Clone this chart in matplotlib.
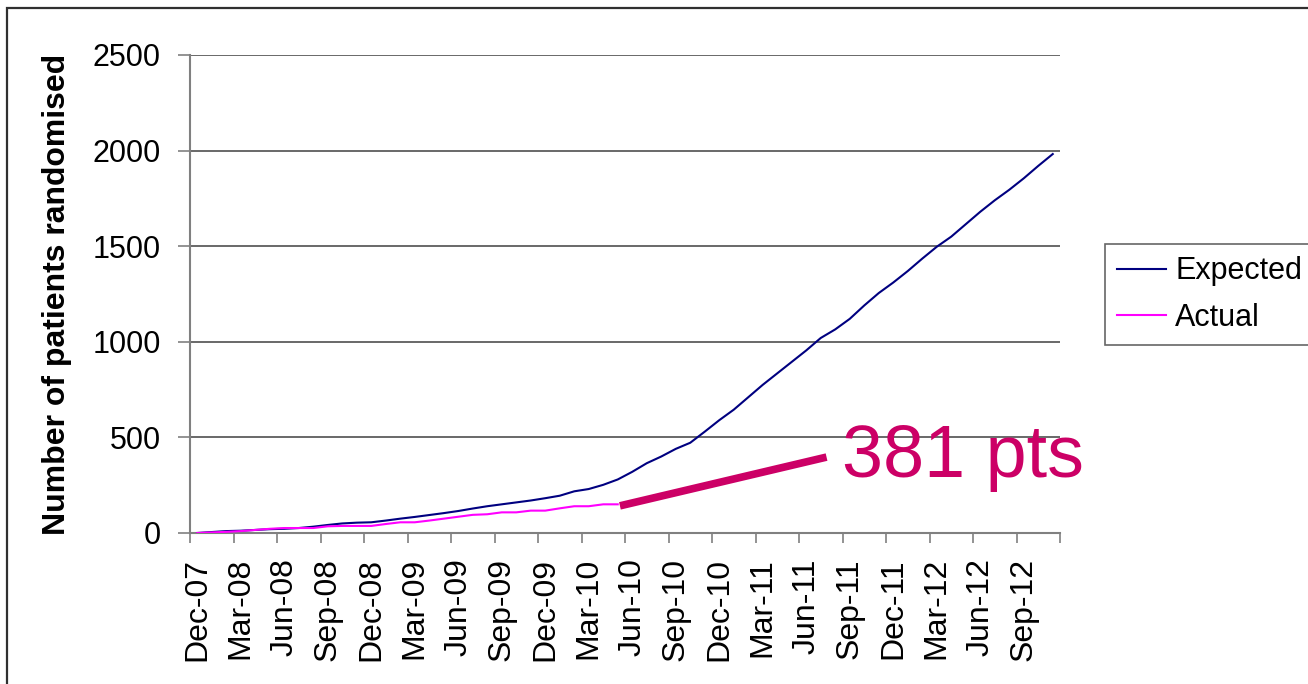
import matplotlib
matplotlib.use("Agg")
import matplotlib.pyplot as plt
from matplotlib.patches import Rectangle

plt.rcParams['font.family'] = ['Liberation Sans', 'DejaVu Sans']

# ---- data ----
months = ["Dec", "Jan", "Feb", "Mar", "Apr", "May", "Jun", "Jul", "Aug", "Sep", "Oct", "Nov"]
years = ["07", "08", "09", "10", "11", "12"]
categories = []
for i in range(60):
    m = months[i % 12]
    y = years[(i + 11) // 12] if i > 0 else "07"
    categories.append(f"{m}-{y}")

expected = [0, 5, 10, 12, 16, 20, 22, 26, 33, 42, 50, 54,
            56, 65, 75, 84, 94, 104, 115, 128, 140, 150, 160, 170,
            182, 195, 218, 230, 252, 280, 320, 365, 400, 440, 472, 530,
            590, 645, 710, 775, 835, 895, 955, 1020, 1065, 1120, 1190, 1255,
            1310, 1370, 1435, 1497, 1550, 1615, 1680, 1740, 1795, 1855, 1920, 1982]
actual = [0, 3, 6, 10, 16, 22, 26, 26, 26, 35, 37, 37,
          37, 47, 56, 56, 65, 75, 85, 95, 98, 108, 108, 117,
          117, 129, 140, 140, 150, 150]

annotation_text = "381 pts"
y_ticks = [0, 500, 1000, 1500, 2000, 2500]

# ---- figure ----
W, H = 1308, 684
fig = plt.figure(figsize=(W / 100, H / 100), dpi=100)
ax = fig.add_axes([190 / W, 1 - 533 / H, 870 / W, 478 / H])

x_exp = list(range(len(expected)))
x_act = list(range(len(actual)))
ax.plot(x_exp, expected, color="#000080", lw=1.5, label="Expected", zorder=3)
ax.plot(x_act, actual, color="#FF00FF", lw=1.5, label="Actual", zorder=3)

ax.set_xlim(-0.5, len(categories) - 0.5)
ax.set_ylim(0, 2500)
ax.set_yticks(y_ticks)
ax.set_yticklabels([str(v) for v in y_ticks])
ax.grid(axis="y", color="#404040", lw=1.1)
ax.set_axisbelow(True)

# x ticks: marks at group boundaries, labels at every third month
major = [i - 0.5 for i in range(0, len(categories) + 1, 3)]
ax.set_xticks(major)
ax.set_xticklabels([""] * len(major))
ax.set_xticks(list(range(0, len(categories), 3)), minor=True)
ax.set_xticklabels([categories[i] for i in range(0, len(categories), 3)],
                   minor=True, rotation=90, fontsize=23)
ax.tick_params(axis="x", which="minor", length=0, pad=18)
ax.tick_params(axis="x", which="major", length=7, width=1.2, color="#808080", direction="out")
ax.tick_params(axis="y", length=9, width=1.2, color="#808080", direction="out",
               labelsize=22, pad=12)

for s in ["top", "right"]:
    ax.spines[s].set_visible(False)
for s in ["left", "bottom"]:
    ax.spines[s].set_color("#808080")
    ax.spines[s].set_linewidth(1.5)

ax.set_ylabel("Number of patients randomised", fontsize=23, fontweight="bold", va="center")
ax.yaxis.set_label_coords(-0.153, 0.5)

# annotation
ann_start = (len(actual) - 1 + 0.15, actual[-1] - 8)
ann_end = (43.4, 397)
ax.plot([ann_start[0], ann_end[0]], [ann_start[1], ann_end[1]], color="#CC0066",
        lw=5.5, solid_capstyle="butt", zorder=4, clip_on=False)
ax.text(44.5, 293, annotation_text, color="#CC0066", fontsize=53,
        ha="left", va="baseline", zorder=5)

leg = fig.legend(loc="upper left", bbox_to_anchor=(1105 / W, 1 - 244 / H),
                 fontsize=22, frameon=True, fancybox=False, handlelength=1.6,
                 handletextpad=0.3, borderpad=0.4, labelspacing=0.55,
                 borderaxespad=0)
leg.get_frame().set_edgecolor("#404040")
leg.get_frame().set_linewidth(1.2)

# outer chart border
fig.add_artist(Rectangle((7 / W, -0.1), 1.2, 1 - 8 / H + 0.1, transform=fig.transFigure,
                         fill=False, edgecolor="#303030", lw=1.6))

fig.savefig("out.png", dpi=100)
